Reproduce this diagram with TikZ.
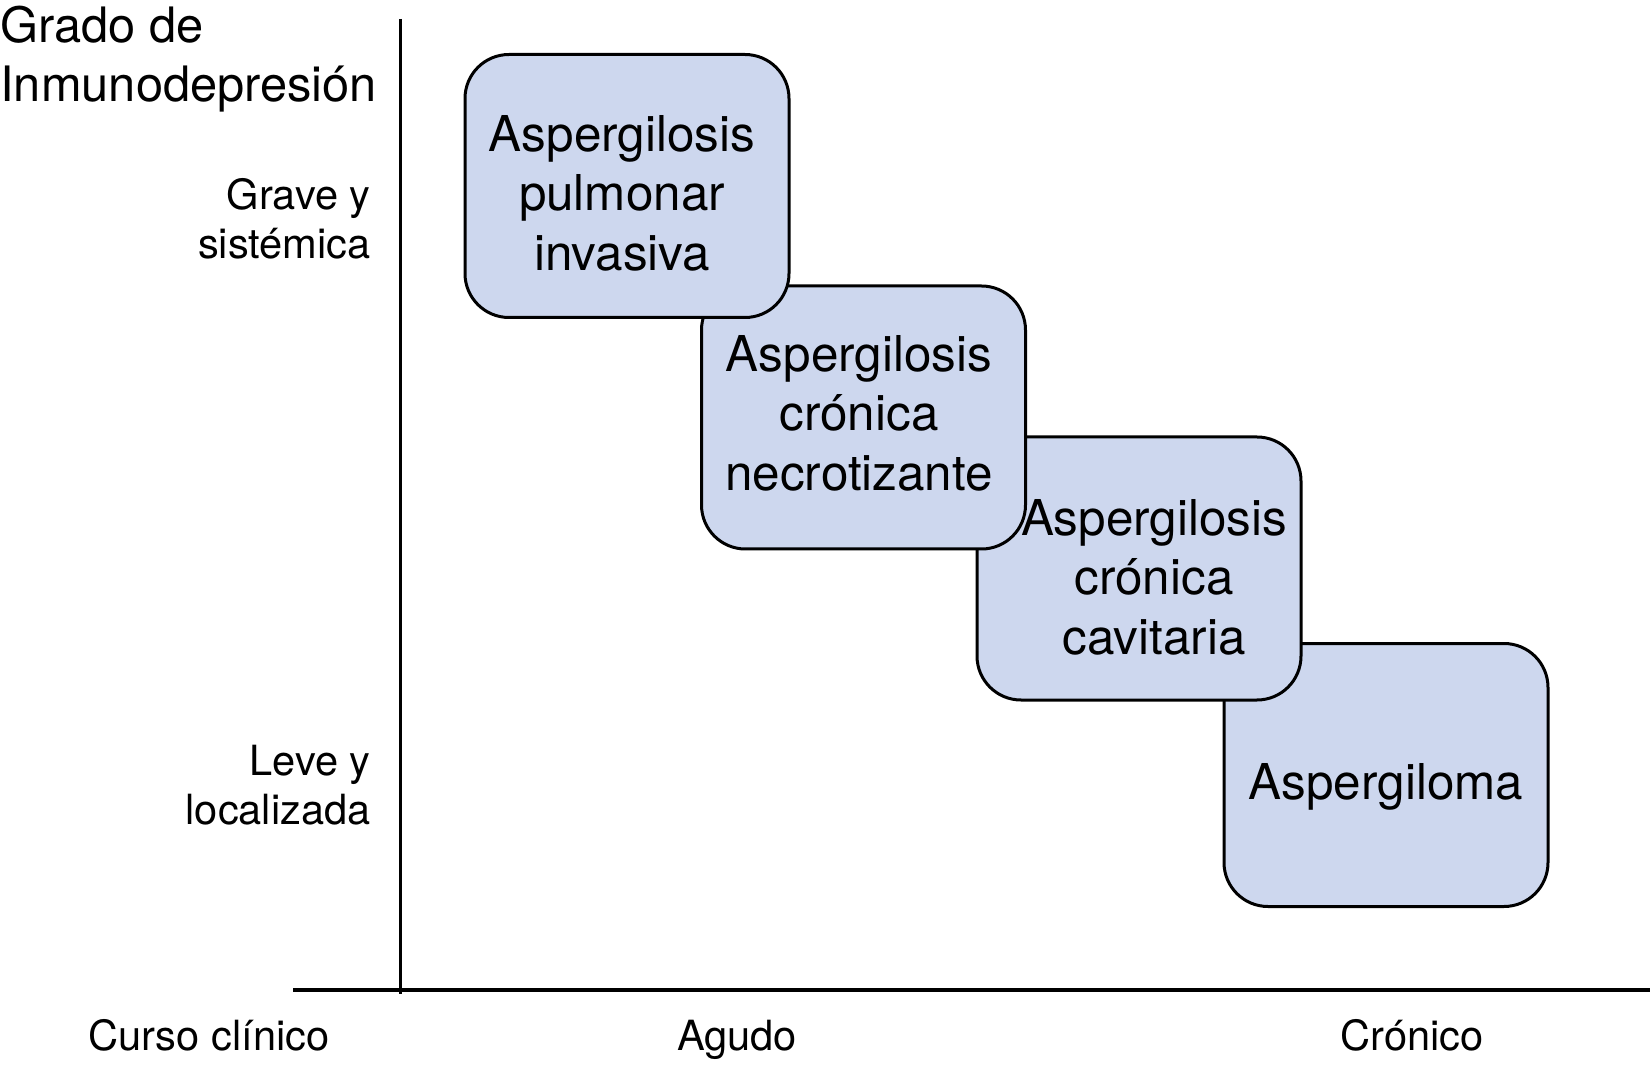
\documentclass[tikz,border=0pt]{standalone}
\usepackage{fontspec}
\setmainfont{TeX Gyre Heros}
\definecolor{boxfill}{RGB}{205,215,238}
\begin{document}
\begin{tikzpicture}[x=0.5pt,y=-0.5pt,
  box/.style={draw=black, line width=1.5pt, fill=boxfill, rounded corners=22pt,
    minimum width=162pt, minimum height=131.5pt, inner sep=0pt},
  boxtext/.style={align=center, inner sep=0pt, font=\fontsize{24.7}{29.75}\selectfont},
  axislabel/.style={inner sep=0pt, font=\fontsize{20.8}{24.5}\selectfont},
  headlabel/.style={inner sep=0pt, align=left, font=\fontsize{24.4}{29.2}\selectfont}]
\useasboundingbox (0,0) rectangle (1650,1069);
% axes
\coordinate (vtop) at (400,19);
\coordinate (vbot) at (400,994);
\coordinate (hleft) at (293,990);
\coordinate (hright) at (1650,990);
\draw[line width=1.5pt] (vtop) -- (vbot);
\draw[line width=2.2pt] (hleft) -- (hright);
% boxes (drawn back to front)
\node[box] (b4) at (1386,775) {};
\node[box] (b3) at (1139,568.5) {};
\node[box] (b2) at (863.5,417.5) {};
\node[box] (b1) at (627,186) {};
% box texts
\node[boxtext] (t1) at (622,193) {Aspergilosis\\pulmonar\\invasiva};
\node[boxtext] (t2) at (859,413) {Aspergilosis\\crónica\\necrotizante};
\node[boxtext] (t3) at (1154,577) {Aspergilosis\\crónica\\cavitaria};
\node[boxtext] (t4) at (1386,787) {Aspergiloma};
% axis labels
\node[headlabel, anchor=west] (head) at (0,59) {Grado de\\Inmunodepresión};
\node[axislabel, align=right, anchor=east] (grave) at (371,218.5) {Grave y\\sistémica};
\node[axislabel, align=right, anchor=east] (leve) at (371,785) {Leve y\\localizada};
\node[axislabel, anchor=base] (curso) at (209,1050) {Curso clínico};
\node[axislabel, anchor=base] (agudo) at (737,1050) {Agudo};
\node[axislabel, anchor=base] (cronico) at (1412,1050) {Crónico};
\end{tikzpicture}
\end{document}
